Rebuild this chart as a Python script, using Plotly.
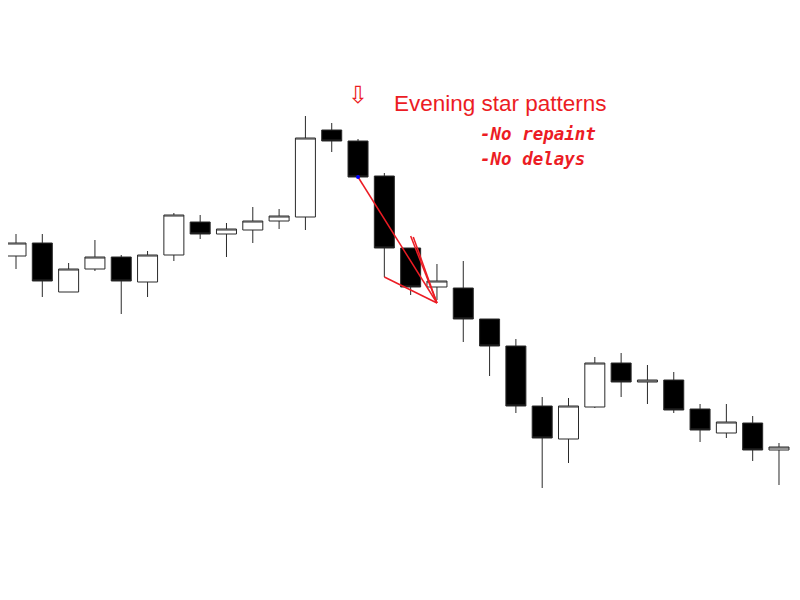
import plotly.graph_objects as go

# Candle index (0..29)
idx = list(range(30))
opens  = [34.4, 35.7, 30.8, 33.1, 34.3, 31.8, 34.5, 37.8, 36.6, 37.0,
          37.9, 38.3, 47.0, 45.9, 42.4, 35.2, 31.3, 31.2, 28.1, 25.4,
          19.4, 16.1, 19.3, 23.7, 21.8, 22.0, 19.1, 16.7, 17.7, 15.0]
highs  = [36.6, 36.6, 33.7, 36.0, 34.5, 34.9, 38.7, 38.5, 37.7, 39.3,
          39.1, 48.4, 47.7, 46.1, 42.7, 35.2, 33.6, 33.9, 28.1, 26.1,
          20.3, 20.2, 24.3, 24.7, 23.5, 22.8, 19.6, 19.6, 18.4, 15.7]
lows   = [33.1, 30.3, 30.8, 32.9, 28.6, 30.3, 33.9, 36.1, 34.3, 35.7,
          37.1, 37.0, 44.8, 42.3, 32.3, 30.5, 30.0, 25.8, 22.4, 18.7,
          11.2, 13.7, 19.2, 20.3, 19.6, 18.7, 15.8, 16.2, 13.9, 11.5]
closes = [35.7, 31.9, 33.1, 34.3, 31.9, 34.5, 38.5, 36.6, 37.1, 37.9,
          38.4, 46.2, 45.9, 42.3, 35.2, 31.3, 31.9, 28.1, 25.4, 19.4,
          16.2, 19.4, 23.7, 21.8, 22.0, 19.0, 17.0, 17.8, 15.0, 15.3]

# Pattern marker lines (evening star) in index / price units
pattern_x = [13, 16.0, None, 14, 16.0, None, 15.0, 16.0, None, 15.1, 16.0]
pattern_y = [42.3, 29.7, None, 32.3, 29.7, None, 36.4, 29.7, None, 36.3, 29.7]
signal_x = [13]
signal_y = [42.3]

title_text = "Evening star patterns"
note_lines = ["-No repaint", "-No delays"]
RED = "#ec1c24"

# page has an 8px body margin: figure occupies screen pixels 8..800 / 8..600
W, H, OFF = 792, 592, 8


def px(x):
    return (x - OFF) / W


def py(y):
    return 1 - (y - OFF) / H


fig = go.Figure()
fig.add_trace(go.Candlestick(
    x=idx, open=opens, high=highs, low=lows, close=closes,
    increasing=dict(fillcolor="white", line=dict(color="#2a2a2a", width=1)),
    decreasing=dict(fillcolor="black", line=dict(color="#2a2a2a", width=1)),
    whiskerwidth=0, showlegend=False, hoverinfo="skip",
))
fig.add_trace(go.Scatter(
    x=pattern_x, y=pattern_y, mode="lines",
    line=dict(color=RED, width=1.5), showlegend=False, hoverinfo="skip",
))
fig.add_trace(go.Scatter(
    x=signal_x, y=signal_y, mode="markers",
    marker=dict(color="blue", size=4), showlegend=False, hoverinfo="skip",
))

fig.add_annotation(x=13, y=py(95), xref="x", yref="paper", text="⇩",
                   showarrow=False, font=dict(family="DejaVu Sans", size=24, color=RED),
                   xanchor="center", yanchor="middle")
fig.add_annotation(x=px(392), y=py(103), xref="paper", yref="paper", text=title_text,
                   showarrow=False, font=dict(family="Liberation Sans, Arial", size=22.5, color=RED),
                   xanchor="left", yanchor="middle")
for i, t in enumerate(note_lines):
    fig.add_annotation(x=px(478), y=py(134 + 25 * i), xref="paper", yref="paper",
                       text="<b><i>" + t + "</i></b>", showarrow=False,
                       font=dict(family="DejaVu Sans Mono", size=17.5, color=RED),
                       xanchor="left", yanchor="middle")

fig.update_layout(
    width=W, height=H,
    margin=dict(l=0, r=0, t=0, b=0),
    paper_bgcolor="white", plot_bgcolor="white",
    boxgap=0.24, boxgroupgap=0,
    xaxis=dict(range=[(OFF - 16) / 26.31, (800 - 16) / 26.31], visible=False,
               rangeslider=dict(visible=False)),
    yaxis=dict(range=[0, 60 - OFF / 10], visible=False),
)

fig.write_html("out.html")
